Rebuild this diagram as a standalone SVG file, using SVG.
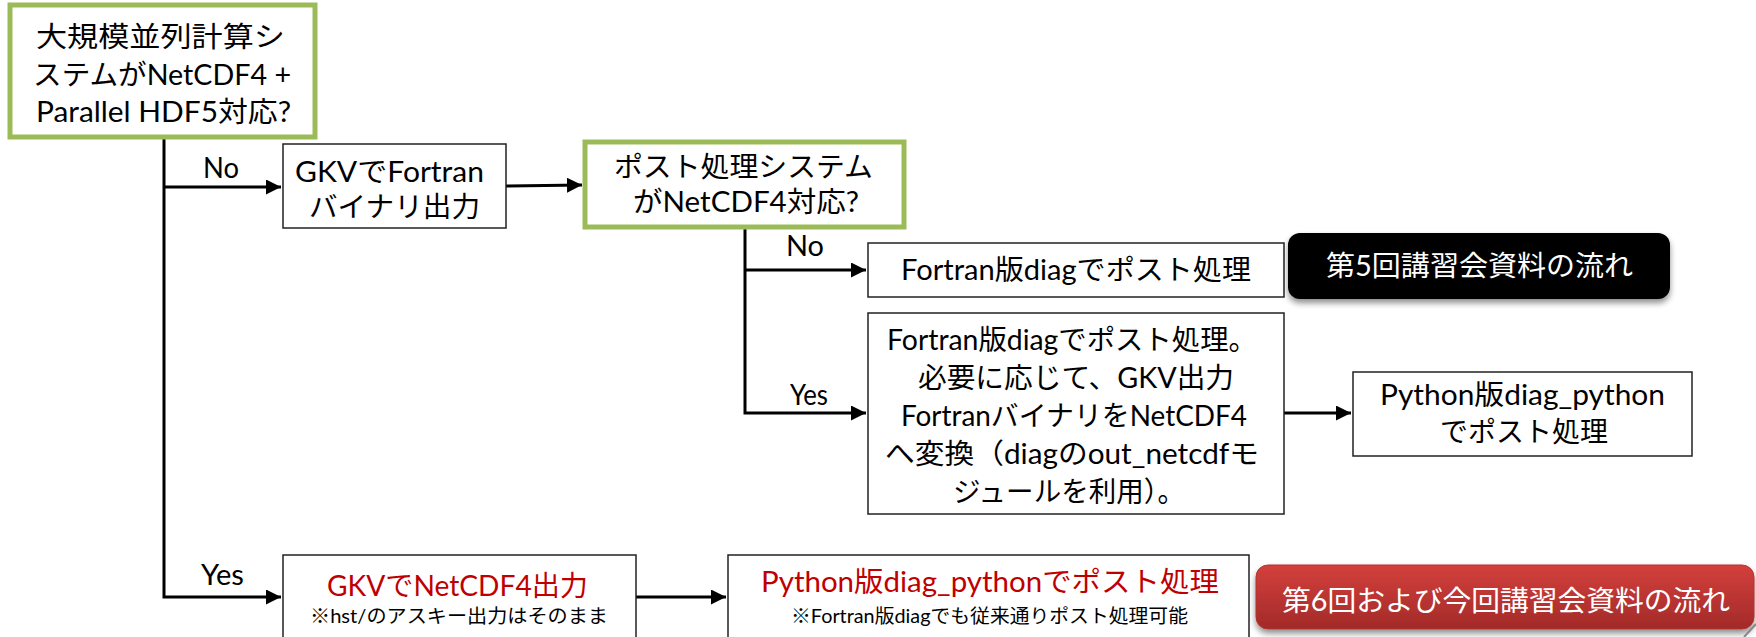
<svg xmlns="http://www.w3.org/2000/svg" width="1756" height="637" viewBox="0 0 1756 637">
<style>
text{font-family:Lato,"Noto Sans CJK JP",sans-serif;font-size:28px;fill:#000}
.g{fill:#fff;stroke:#9BBB59;stroke-width:5}
.b{fill:#fff;stroke:#222;stroke-width:1.5}
.c{fill:none;stroke:#000;stroke-width:3}
.r{fill:#C00000}
.s{font-size:19px}
.w{fill:#fff}
</style>
<defs>
<marker id="ah" markerWidth="15" markerHeight="15" refX="15" refY="7.5" orient="auto" markerUnits="userSpaceOnUse">
<path d="M0,0 L15,7.5 L0,15 Z" fill="#000"/>
</marker>
<linearGradient id="rg" x1="0" y1="0" x2="0" y2="1">
<stop offset="0" stop-color="#D3403C"/>
<stop offset="1" stop-color="#A32A29"/>
</linearGradient>
<filter id="sh" x="-5%" y="-20%" width="110%" height="150%">
<feGaussianBlur in="SourceAlpha" stdDeviation="3"/>
<feOffset dx="0" dy="4" result="o"/>
<feComponentTransfer><feFuncA type="linear" slope="0.45"/></feComponentTransfer>
<feMerge><feMergeNode/><feMergeNode in="SourceGraphic"/></feMerge>
</filter>
</defs>

<g id="connectors">
<path class="c" d="M164,137 V597 H281" marker-end="url(#ah)"/>
<path class="c" d="M164,187 H281" marker-end="url(#ah)"/>
<path class="c" d="M506,186 L582,185" marker-end="url(#ah)"/>
<path class="c" d="M745,227 V413 H866" marker-end="url(#ah)"/>
<path class="c" d="M745,270 H866" marker-end="url(#ah)"/>
<path class="c" d="M1284,413 H1351" marker-end="url(#ah)"/>
<path class="c" d="M636,597 H726" marker-end="url(#ah)"/>
<text x="203" y="178" textLength="36" lengthAdjust="spacingAndGlyphs">No</text>
<text x="201" y="585" textLength="43" lengthAdjust="spacingAndGlyphs">Yes</text>
<text x="786" y="256" textLength="38" lengthAdjust="spacingAndGlyphs">No</text>
<text x="790" y="405" textLength="38" lengthAdjust="spacingAndGlyphs">Yes</text>
</g>

<g id="q1">
<rect class="g" x="10" y="5" width="305" height="132"/>
<text x="36" y="47" textLength="249" lengthAdjust="spacingAndGlyphs">大規模並列計算シ</text>
<text x="33" y="85" textLength="258" lengthAdjust="spacingAndGlyphs">ステムがNetCDF4 +</text>
<text x="36" y="122" textLength="255" lengthAdjust="spacingAndGlyphs">Parallel HDF5対応?</text>
</g>

<g id="gkv-fortran">
<rect class="b" x="283" y="144" width="223" height="84"/>
<text x="295" y="182" textLength="189" lengthAdjust="spacingAndGlyphs">GKVでFortran</text>
<text x="309" y="217" textLength="171" lengthAdjust="spacingAndGlyphs">バイナリ出力</text>
</g>

<g id="q2">
<rect class="g" x="585" y="142" width="319" height="85"/>
<text x="614" y="177" textLength="259" lengthAdjust="spacingAndGlyphs">ポスト処理システム</text>
<text x="633" y="212" textLength="226" lengthAdjust="spacingAndGlyphs">がNetCDF4対応?</text>
</g>

<g id="fortran-diag">
<rect class="b" x="868" y="243" width="416" height="54"/>
<text x="901" y="280" textLength="350" lengthAdjust="spacingAndGlyphs">Fortran版diagでポスト処理</text>
</g>

<g id="label5">
<rect x="1288" y="233" width="382" height="66" rx="12" fill="#000" filter="url(#sh)"/>
<text class="w" x="1326" y="276" textLength="307" lengthAdjust="spacingAndGlyphs">第5回講習会資料の流れ</text>
</g>

<g id="fortran-convert">
<rect class="b" x="868" y="313" width="416" height="201"/>
<text x="887" y="350" textLength="370" lengthAdjust="spacingAndGlyphs">Fortran版diagでポスト処理。</text>
<text x="918" y="388" textLength="316" lengthAdjust="spacingAndGlyphs">必要に応じて、GKV出力</text>
<text x="901" y="426" textLength="346" lengthAdjust="spacingAndGlyphs">FortranバイナリをNetCDF4</text>
<text x="885" y="464" textLength="374" lengthAdjust="spacingAndGlyphs">へ変換（diagのout_netcdfモ</text>
<text x="953" y="502" textLength="232" lengthAdjust="spacingAndGlyphs">ジュールを利用）。</text>
</g>

<g id="python-diag">
<rect class="b" x="1353" y="372" width="339" height="84"/>
<text x="1380" y="405" textLength="285" lengthAdjust="spacingAndGlyphs">Python版diag_python</text>
<text x="1440" y="442" textLength="168" lengthAdjust="spacingAndGlyphs">でポスト処理</text>
</g>

<g id="gkv-netcdf">
<rect class="b" x="283" y="555" width="353" height="90"/>
<text class="r" x="327" y="596" textLength="261" lengthAdjust="spacingAndGlyphs">GKVでNetCDF4出力</text>
<text class="s" x="310" y="623" textLength="298" lengthAdjust="spacingAndGlyphs">※hst/のアスキー出力はそのまま</text>
</g>

<g id="python-post">
<rect class="b" x="728" y="555" width="521" height="90"/>
<text class="r" x="761" y="592" textLength="458" lengthAdjust="spacingAndGlyphs">Python版diag_pythonでポスト処理</text>
<text class="s" x="791" y="623" textLength="397" lengthAdjust="spacingAndGlyphs">※Fortran版diagでも従来通りポスト処理可能</text>
</g>

<g id="label6">
<rect x="1256" y="565" width="498" height="64" rx="12" fill="url(#rg)" stroke="#B33230" stroke-width="1" filter="url(#sh)"/>
<text class="w" x="1282" y="611" textLength="448" lengthAdjust="spacingAndGlyphs">第6回および今回講習会資料の流れ</text>
</g>

<path d="M1744,637 L1756,624" fill="none" stroke="#888" stroke-width="2"/>
</svg>
